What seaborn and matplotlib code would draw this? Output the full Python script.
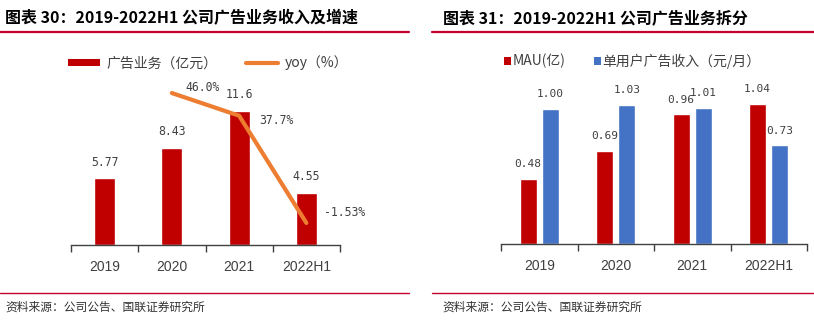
import matplotlib
matplotlib.use("Agg")
import matplotlib.pyplot as plt
from matplotlib.lines import Line2D
from matplotlib.patches import Patch
from matplotlib import font_manager
import seaborn as sns
import pandas as pd

# ---------------- data ----------------
years = ["2019", "2020", "2021", "2022H1"]
ad_rev = [5.77, 8.43, 11.6, 4.55]
ad_rev_labels = ["5.77", "8.43", "11.6", "4.55"]
yoy_years = ["2020", "2021", "2022H1"]
yoy = [46.0, 37.7, -1.53]
yoy_labels = ["46.0%", "37.7%", "-1.53%"]
mau = [0.48, 0.69, 0.96, 1.04]
mau_labels = ["0.48", "0.69", "0.96", "1.04"]
arpu = [1.00, 1.03, 1.01, 0.73]
arpu_labels = ["1.00", "1.03", "1.01", "0.73"]

title_left = "图表 30：2019-2022H1 公司广告业务收入及增速"
title_right = "图表 31：2019-2022H1 公司广告业务拆分"
source = "资料来源：公司公告、国联证券研究所"
leg_rev = "广告业务（亿元）"
leg_yoy = "yoy（%）"
leg_mau = "MAU(亿)"
leg_arpu = "单用户广告收入（元/月）"

# ---------------- style ----------------
sns.set_theme(style="white")
plt.rcParams["font.family"] = ["Noto Sans CJK SC", "DejaVu Sans"]
plt.rcParams["axes.unicode_minus"] = False

names = {f.name for f in font_manager.fontManager.ttflist}
tick_font = "Liberation Sans Narrow" if "Liberation Sans Narrow" in names else "Liberation Sans"
num_font = ["DejaVu Sans Mono", "Noto Sans CJK SC"]

RED = "#C00000"
BLUE = "#4472C4"
ORANGE = "#ED7D31"
LINE_RED = "#C4002F"
TXT = "#404040"

W, H = 814, 321
fig = plt.figure(figsize=(W / 100, H / 100), dpi=100)
fig.patch.set_facecolor("white")


def fx(px):
    return px / W


def fy(py):
    return 1 - py / H


def style_axis(ax):
    for s in ["top", "right", "left"]:
        ax.spines[s].set_visible(False)
    ax.spines["bottom"].set_color("#404040")
    ax.spines["bottom"].set_linewidth(1.0)
    ax.set_yticks([])
    ax.set_xlim(-0.5, 3.5)
    ax.set_xticks(range(len(years)))
    ax.set_xticklabels(years, fontfamily=tick_font, fontsize=10, color=TXT)
    ax.set_xticks([-0.5, 0.5, 1.5, 2.5, 3.5], minor=True)
    ax.tick_params(axis="x", which="major", length=0, pad=11)
    ax.tick_params(axis="x", which="minor", length=5, width=1.0,
                   color="#404040", direction="out", bottom=True)
    ax.set_xlabel("")
    ax.set_ylabel("")
    ax.patch.set_alpha(0)


# ---------------- left chart ----------------
axL = fig.add_axes([fx(71), fy(245), fx(340 - 71), (245 - 72) / H])
sns.barplot(x=years, y=ad_rev, color=RED, saturation=1, width=0.31, ax=axL)
axL.set_ylim(0, 15)
style_axis(axL)
axL.bar_label(axL.containers[0], labels=ad_rev_labels, padding=7,
              fontsize=8.3, fontfamily=num_font, color=TXT)

axL2 = axL.twinx()
xpos = [years.index(y) for y in yoy_years]
sns.lineplot(x=xpos, y=yoy, color=ORANGE, linewidth=3, ax=axL2)
axL2.set_ylim(-9.6, 53.7)
axL2.set_yticks([])
axL2.set_ylabel("")
for s in axL2.spines.values():
    s.set_visible(False)
offsets = [(31, 6), (37, -5), (38, 10)]
for x, v, lab, off in zip(xpos, yoy, yoy_labels, offsets):
    axL2.annotate(lab, (x, v), xytext=off, textcoords="offset pixels",
                  ha="center", va="center", fontsize=8.3,
                  fontfamily=num_font, color=TXT)

handlesL = [Patch(facecolor=RED, edgecolor="none"),
            Line2D([], [], color=ORANGE, linewidth=3)]
fig.legend(handlesL, [leg_rev, leg_yoy], loc="center left",
           bbox_to_anchor=(fx(68), fy(63)), ncol=2, frameon=False,
           fontsize=10, handlelength=2.3, handleheight=0.5,
           handletextpad=0.5, columnspacing=2.0, labelcolor=TXT,
           borderaxespad=0, borderpad=0)

# ---------------- right chart ----------------
axR = fig.add_axes([fx(501), fy(244), fx(807 - 501), (244 - 72) / H])
df = pd.DataFrame({
    "year": years * 2,
    "value": mau + arpu,
    "series": [leg_mau] * len(years) + [leg_arpu] * len(years),
})
sns.barplot(data=df, x="year", y="value", hue="series",
            palette={leg_mau: RED, leg_arpu: BLUE}, saturation=1,
            width=0.58, gap=0.24, legend=False, ax=axR)
axR.set_ylim(0, 1.274)
style_axis(axR)
for cont, labs in zip(axR.containers, [mau_labels, arpu_labels]):
    axR.bar_label(cont, labels=labs, padding=7, fontsize=8.0,
                  fontfamily=num_font, color=TXT)

handlesR = [Patch(facecolor=RED, edgecolor="none"),
            Patch(facecolor=BLUE, edgecolor="none")]
fig.legend(handlesR, [leg_mau, leg_arpu], loc="center left",
           bbox_to_anchor=(fx(504), fy(61)), ncol=2, frameon=False,
           fontsize=10, handlelength=0.5, handleheight=0.5,
           handletextpad=0.15, columnspacing=2.0, labelcolor=TXT,
           borderaxespad=0, borderpad=0)

# ---------------- titles, rules, sources ----------------
fig.text(fx(5), fy(18), title_left, fontsize=11.5, fontweight="bold",
         color="black", va="center", ha="left")
fig.text(fx(443), fy(18), title_right, fontsize=11.5, fontweight="bold",
         color="black", va="center", ha="left")

for x0, x1 in [(0, 409), (432, 814)]:
    fig.add_artist(Line2D([fx(x0), fx(x1)], [fy(32), fy(32)],
                          color=LINE_RED, linewidth=1.6))
    fig.add_artist(Line2D([fx(x0), fx(x1)], [fy(293), fy(293)],
                          color=LINE_RED, linewidth=1.0))

fig.text(fx(5), fy(307), source, fontsize=8.5, color="#333333",
         va="center", ha="left")
fig.text(fx(442), fy(307), source, fontsize=8.5, color="#333333",
         va="center", ha="left")

fig.savefig("out.png", dpi=100, facecolor="white")
